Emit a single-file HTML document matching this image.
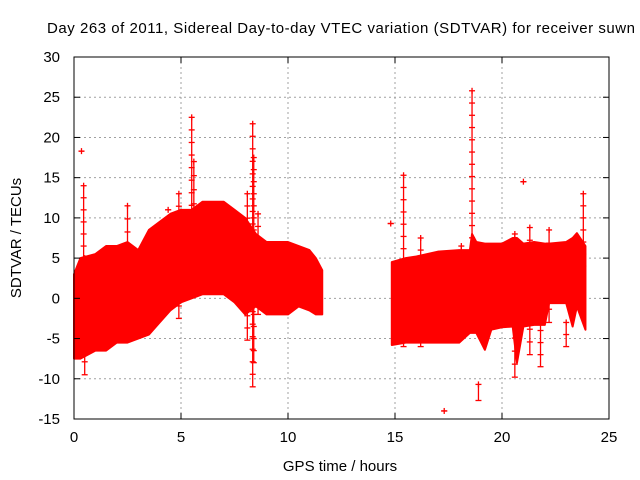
<!DOCTYPE html>
<html><head><meta charset="utf-8"><style>
html,body{margin:0;padding:0;background:#fff;}
svg{display:block;font-family:"Liberation Sans",sans-serif;}
</style></head><body>
<svg id="chart" width="640" height="480">
<text x="47" y="33" font-size="15" textLength="588" lengthAdjust="spacing" fill="#000">Day 263 of 2011, Sidereal Day-to-day VTEC variation (SDTVAR) for receiver suwn</text>
<g id="grid"></g>
<g id="series"></g>
<g id="axes"></g>
<text x="340" y="471" font-size="15" text-anchor="middle">GPS time / hours</text>
<text transform="translate(21,238) rotate(-90)" font-size="15" text-anchor="middle">SDTVAR / TECUs</text>
</svg>
<script>
const xTicks=[0,5,10,15,20,25];
const yTicks=[-15,-10,-5,0,5,10,15,20,25,30];
const seg1Hours=[0,0.3,1,1.5,2,2.5,3,3.5,4,4.5,5,5.5,6,6.5,7,7.5,8,8.5,9,9.5,10,10.5,11,11.3,11.6];
const seg1Upper=[3,5,5.5,6.5,6.5,7,6,8.5,9.5,10.5,11,11,12,12,12,11,10,8,7,7,7,6.5,6,5,3.5];
const seg1Lower=[-7.5,-7.5,-6.5,-6.5,-5.5,-5.5,-5,-4.5,-3,-1.5,-0.5,0,0.5,0.5,0.5,-0.5,-2,-1,-2,-2,-2,-1,-1.5,-2,-2];
const seg2Hours=[14.85,15.5,16,17,18,18.5,18.6,18.8,19.2,19.5,20,20.5,20.7,21,21.5,22,22.2,23,23.3,23.5,23.9];
const seg2Upper=[4.5,5,5.2,5.8,6,6,8,7,6.8,6.8,6.8,7.5,7.5,6.8,7,6.8,6.8,7,7.5,8.1,6.5];
const seg2Lower=[-5.8,-5.5,-5.5,-5.5,-5.5,-4.3,-4.3,-4.3,-6.4,-3.9,-3.6,-3.5,-8,-3.5,-3.3,-3.3,-0.6,-0.6,-3.5,-1,-3.9];
const spikeHours=[0.35,0.45,0.5,2.5,4.4,4.9,5.5,5.6,8.1,8.35,8.4,8.6,14.8,15.4,16.2,17.3,18.1,18.6,18.9,20.6,21.0,21.3,21.8,22.2,23.0,23.8];
const spikeTop=[18.3,14,5,11.5,11,13,22.5,17,13,21.7,17.5,10.5,9.3,15.3,7.5,-14,6.5,25.8,-10.7,8,14.5,8.8,2,8.5,-3,13];
const spikeBottom=[18.3,-7,-9.5,5,11,-2.5,10,10,-5.2,-11,-8,-2,9.3,-6,-6,-14,5,6,-12.7,-9.8,14.5,-7,-8.5,-3,-6,4];
const X0=74,X1=609,Y0=419,Y1=57;
const sx=h=>X0+(h-0)/(25-0)*(X1-X0);
const sy=v=>Y0-(v+15)/(45)*(Y0-Y1);
const NS="http://www.w3.org/2000/svg";
function mk(tag,attrs,parent){const e=document.createElementNS(NS,tag);for(const k in attrs)e.setAttribute(k,attrs[k]);parent.appendChild(e);return e;}
const grid=document.getElementById('grid'),axes=document.getElementById('axes'),ser=document.getElementById('series');
xTicks.forEach(t=>{const x=sx(t);
 if(t>0&&t<25){const l=mk('line',{x1:x,x2:x,y1:Y1,y2:Y0,stroke:'#a0a0a0','stroke-dasharray':'2,3'},grid);
 
 }
 mk('line',{x1:x,x2:x,y1:Y0,y2:Y0-6,stroke:'#000'},axes);mk('line',{x1:x,x2:x,y1:Y1,y2:Y1+6,stroke:'#000'},axes);
 const tx=mk('text',{x:x,y:Y0+23,'font-size':15,'text-anchor':'middle'},axes);tx.textContent=t;
 
 
});
yTicks.forEach(t=>{const y=sy(t);
 if(t>-15&&t<30){const l=mk('line',{x1:X0,x2:X1,y1:y,y2:y,stroke:'#a0a0a0','stroke-dasharray':'2,3'},grid);
 
 }
 mk('line',{x1:X0,x2:X0+6,y1:y,y2:y,stroke:'#000'},axes);mk('line',{x1:X1,x2:X1-6,y1:y,y2:y,stroke:'#000'},axes);
 const tx=mk('text',{x:X0-14,y:y+5,'font-size':15,'text-anchor':'end'},axes);tx.textContent=t;
 
 
});
const frame=mk('rect',{x:X0,y:Y1,width:X1-X0,height:Y0-Y1,fill:'none',stroke:'#000'},axes);


function band(hs,up,lo,name){let pts=[];hs.forEach((h,i)=>pts.push(sx(h)+','+sy(up[i])));
 for(let i=hs.length-1;i>=0;i--)pts.push(sx(hs[i])+','+sy(lo[i]));
 const p=mk('polygon',{points:pts.join(' '),fill:'#ff0000',stroke:'#ff0000','stroke-width':2,'stroke-linejoin':'round'},ser);
 
 }
band(seg1Hours,seg1Upper,seg1Lower,'data-band-1');
band(seg2Hours,seg2Upper,seg2Lower,'data-band-2');
spikeHours.forEach((h,i)=>{const x=sx(h),yt=sy(spikeTop[i]),yb=sy(spikeBottom[i]);
 const g=mk('g',{stroke:'#ff0000','stroke-width':1.3},ser);
 
 
 mk('line',{x1:x,x2:x,y1:yt,y2:yb},g);
 mk('line',{x1:x-3,x2:x+3,y1:yt,y2:yt},g);
 mk('line',{x1:x-3,x2:x+3,y1:yb,y2:yb},g);
 mk('line',{x1:x,x2:x,y1:yt-3,y2:yt+3},g);
 const n=Math.floor(Math.abs(yb-yt)/12);
 for(let k=1;k<n;k++){const yy=yt+(yb-yt)*k/n;mk('line',{x1:x-3,x2:x+3,y1:yy,y2:yy},g);}
});
</script>
</body></html>
